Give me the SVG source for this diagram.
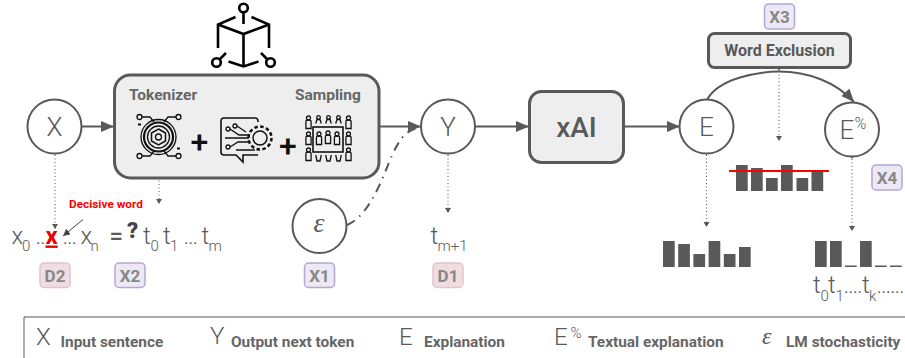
<svg xmlns="http://www.w3.org/2000/svg" width="905" height="358" viewBox="0 0 905 358">
<style>
text{font-family:Roboto,"Liberation Sans",sans-serif;fill:#595959}
.big{font-size:24px;font-weight:300}
.node{font-size:26px;font-weight:300;text-anchor:middle}
.sub{font-size:15px;font-weight:300}
.dots{font-size:17px;font-weight:400}
.leg{font-size:15.400px;font-weight:700;fill:#666}
.head{font-size:15.500px;font-weight:700;fill:#666}
.eps{font-family:"Liberation Serif",serif;font-style:italic}
.c{fill:#fff;stroke:#595959;stroke-width:2}
.b{fill:#eee;stroke:#595959;stroke-width:3}
.ln{fill:none;stroke:#595959;stroke-width:2}
.dot{fill:none;stroke:#555;stroke-width:1;stroke-dasharray:1 2.500}
.bar{fill:#595959}
.ic{fill:none;stroke:#111;stroke-width:1.300}
.ik{fill:none;stroke:#000;stroke-width:2.600}
.plus{fill:#111;font-size:32px;font-weight:500;text-anchor:middle}
.tag{font-size:17px;font-weight:700;fill:#888;text-anchor:middle}
.pu{fill:#ece9f4;stroke:#b4a7d6;stroke-width:1.500}
.pi{fill:#f0dde2;stroke:#e6c3cc;stroke-width:1.500}
</style>
<defs>
<marker id="a" markerUnits="userSpaceOnUse" markerWidth="14" markerHeight="12" refX="13" refY="5.500" orient="auto"><path d="M0 0L13 5.500L0 11z" fill="#595959"/></marker>
<marker id="s" markerUnits="userSpaceOnUse" markerWidth="6" markerHeight="7" refX="5" refY="3" orient="auto"><path d="M0 0L5 3L0 6z" fill="#595959"/></marker>
<marker id="k" markerUnits="userSpaceOnUse" markerWidth="8" markerHeight="8" refX="7" refY="3.500" orient="auto"><path d="M0 0L7 3.500L0 7z" fill="#444"/></marker>
<g id="person"><circle cx="0" cy="-4" r="2"/><path d="M-2.600 6.500V-0.500Q-2.600 -2 0 -2Q2.600 -2 2.600 -0.500V6.500z"/></g>
<g id="mini"><circle cx="0" cy="-2.500" r="1.800"/><path d="M-2.800 3.500L-1.500 -0.500H1.500L2.800 3.500"/></g>
<path id="cup" d="M-2.800 -3L-1.500 3H1.500L2.800 -3"/>
</defs>

<g id="connectors">
<path class="ln" d="M82 126.500H114" marker-end="url(#a)"/>
<path class="ln" d="M380 126.500H421" marker-end="url(#a)"/>
<path class="ln" d="M475 126.500H529" marker-end="url(#a)"/>
<path class="ln" d="M624 126.500H680" marker-end="url(#a)"/>
<path class="ln" d="M707 100C718 78 760 71.500 779 71.500C808 71.500 836 82 854 102" marker-end="url(#a)"/>
<path fill="none" stroke="#595959" stroke-width="2" stroke-dasharray="9 6 1.500 6" d="M347 225C366 217 378 190 388 165C393 152 400 138 407 133C410 131 413 129 417 128"/>
<path class="dot" d="M55 155V229" marker-start="url(#s)" marker-end="url(#s)"/>
<path class="dot" d="M159 163V204" marker-start="url(#s)" marker-end="url(#s)"/>
<path class="dot" d="M448 155V213" marker-start="url(#s)" marker-end="url(#s)"/>
<path class="dot" d="M706.500 155V227" marker-start="url(#s)" marker-end="url(#s)"/>
<path class="dot" d="M779 71V141" marker-start="url(#s)" marker-end="url(#s)"/>
<path class="dot" d="M852 159V231" marker-start="url(#s)" marker-end="url(#s)"/>
<path fill="none" stroke="#444" stroke-width="1" d="M83 219.500L63 236" marker-end="url(#k)"/>
</g>

<g id="cube-icon" class="ik">
<circle cx="243.500" cy="8" r="4.300"/>
<circle cx="216.500" cy="62.500" r="4.300"/>
<circle cx="270.500" cy="62.500" r="4.300"/>
<path d="M243.500 12.500V24"/>
<path d="M235.500 17L218 24.500V48M251.500 17L269 24.500V48M218 24.500L243.500 34L269 24.500M243.500 34V66.500M228.500 61.500L243.500 66.500L258.500 61.500M220 59L226 53M267 59L261 53"/>
</g>

<g id="node-x"><circle class="c" cx="54.500" cy="126.500" r="27"/><text class="node" x="54.500" y="136">X</text></g>

<g id="node-llm">
<rect class="b" x="114.500" y="75" width="264.500" height="103" rx="16"/>
<text class="head" x="129" y="99.500">Tokenizer</text>
<text class="head" x="295" y="99.500">Sampling</text>
<g class="ic">
<circle cx="158.500" cy="137" r="17.500"/><circle cx="158.500" cy="137" r="14.500" stroke-width="2.200"/><circle cx="158.500" cy="137" r="11"/>
<path d="M158.500 129L165.500 133V141L158.500 145L151.500 141V133z" stroke-width="1.500"/><circle cx="158.500" cy="137" r="3"/>
<circle cx="139.500" cy="117" r="2.500"/><circle cx="178.500" cy="117" r="2.500"/><circle cx="139.500" cy="156" r="2.500"/><circle cx="178.500" cy="156" r="2.500"/>
<path d="M142 117H150L154 122M176 117H168L164 122M142 156H150L154 151M176 156H168L164 151"/>
<path d="M138 124.500h3M177 148.500h3" stroke-width="2"/>
</g>
<text class="plus" x="199.500" y="152.500" style="fill:#111">+</text>
<g class="ic">
<path d="M258 122V121Q258 118 255 118H224Q221 118 221 121V152Q221 155 224 155H236L243 162V155H258" stroke-width="1.600"/>
<circle cx="260" cy="138" r="7" stroke-width="1.500"/>
<circle cx="260" cy="138" r="11.500" stroke-width="2.500" stroke-dasharray="3.500 2.500"/>
<circle cx="228" cy="129" r="2"/><circle cx="235" cy="126" r="2"/><circle cx="228" cy="147" r="2"/>
<path d="M230 129L239 135H250M237 126L246 132M225 138H249M230 147L238 142H249M236 150H255"/>
</g>
<text class="plus" x="288" y="156.500" style="fill:#111">+</text>
<g class="ic">
<rect x="313" y="127" width="30" height="25" stroke-width="1.600"/>
<use href="#person" x="308.500" y="122"/><use href="#person" x="348.500" y="122"/>
<use href="#person" x="308.500" y="138"/><use href="#person" x="348.500" y="138"/>
<use href="#person" x="308.500" y="154"/><use href="#person" x="348.500" y="154"/>
<use href="#mini" x="318.500" y="120"/><use href="#mini" x="328.500" y="120"/><use href="#mini" x="338.500" y="120"/>
<use href="#person" x="319" y="138"/><use href="#person" x="328" y="137"/><use href="#person" x="337" y="138"/>
<use href="#cup" x="318.500" y="158"/><use href="#cup" x="328.500" y="158"/><use href="#cup" x="338.500" y="158"/>
</g>
</g>

<g id="node-y"><circle class="c" cx="448" cy="126.500" r="27"/><text class="node" x="448" y="136">Y</text></g>
<g id="node-xai"><rect class="b" x="529.500" y="91.500" width="94" height="71" rx="12"/><text x="576.500" y="137" font-size="28" font-weight="500" text-anchor="middle">xAI</text></g>
<g id="node-e"><circle class="c" cx="706.500" cy="126.500" r="27"/><text class="node" x="706.500" y="136">E</text></g>
<g id="node-e-pct"><circle class="c" cx="852" cy="129.500" r="27"/><text class="node" x="847" y="139">E</text><text x="854.500" y="129" font-size="16" font-weight="300">%</text></g>
<g id="node-word-exclusion"><rect class="b" x="708.500" y="33.500" width="142" height="34" rx="6"/><text x="779.500" y="56" font-size="16" font-weight="700" text-anchor="middle">Word Exclusion</text></g>
<g id="node-eps"><circle class="c" cx="319.500" cy="226" r="27"/><text class="eps" x="319" y="232" font-size="28" text-anchor="middle">ε</text></g>

<g id="input-tokens">
<text class="big" x="11.500" y="244">x</text><text class="sub" x="22" y="251">0</text>
<text class="dots" x="36" y="244">..</text>
<text x="45.500" y="243.500" font-size="24" font-weight="700" text-decoration="underline" style="fill:#e00">x</text>
<text class="dots" x="63" y="244">...</text>
<text class="big" x="80.500" y="244">x</text><text class="sub" x="90.500" y="251">n</text>
<text x="109.500" y="244" font-size="24" font-weight="500">=</text>
<text x="127" y="238" font-size="22" font-weight="900" style="fill:#444">?</text>
<text class="big" x="143" y="244">t</text><text class="sub" x="150.500" y="251">0</text>
<text class="big" x="163" y="244">t</text><text class="sub" x="170" y="251">1</text>
<text class="dots" x="184" y="244">...</text>
<text class="big" x="201.500" y="244">t</text><text class="sub" x="208.500" y="251">m</text>
<text x="69" y="208" font-size="11.800" font-weight="700" style="fill:#f00">Decisive word</text>
</g>

<g id="output-token"><text class="big" x="430.500" y="244">t</text><text class="sub" x="437.500" y="251">m+1</text></g>

<g id="chart-e">
<rect class="bar" x="663" y="241" width="11.700" height="26"/><rect class="bar" x="678.200" y="244" width="11.700" height="23"/><rect class="bar" x="693.400" y="254" width="11.700" height="13"/><rect class="bar" x="708.600" y="241" width="11.700" height="26"/><rect class="bar" x="723.800" y="254" width="11.700" height="13"/><rect class="bar" x="739" y="247" width="11.700" height="20"/>
</g>
<g id="chart-exclusion">
<rect class="bar" x="736" y="165" width="11.700" height="26"/><rect class="bar" x="751" y="168" width="11.700" height="23"/><rect class="bar" x="766" y="178" width="11.700" height="13"/><rect class="bar" x="781" y="165" width="11.700" height="26"/><rect class="bar" x="796.500" y="178" width="11.700" height="13"/><rect class="bar" x="811.500" y="171" width="11.700" height="20"/>
<rect x="729" y="170" width="100" height="2" fill="#f00"/>
</g>
<g id="chart-textual">
<rect class="bar" x="815" y="241" width="11.700" height="26"/><rect class="bar" x="830" y="241" width="11.700" height="26"/><rect class="bar" x="845" y="265.500" width="11.700" height="1.500"/><rect class="bar" x="860" y="241" width="11.700" height="26"/><rect class="bar" x="875" y="265.500" width="11.700" height="1.500"/><rect class="bar" x="890" y="265.500" width="11.700" height="1.500"/>
<text class="big" x="813" y="293">t</text><text class="sub" x="820.500" y="301">0</text>
<text class="big" x="828" y="293">t</text><text class="sub" x="835.500" y="301">1</text>
<text class="dots" x="844" y="293">....</text>
<text class="big" x="862" y="293">t</text><text class="sub" x="869" y="301">k</text>
<text class="dots" x="877" y="293">......</text>
</g>

<g id="badge-d2"><rect class="pi" x="40" y="263" width="30" height="24.500" rx="4"/><text class="tag" x="55" y="281.500">D2</text></g>
<g id="badge-x2"><rect class="pu" x="115" y="263" width="30" height="24.500" rx="4"/><text class="tag" x="130" y="281.500">X2</text></g>
<g id="badge-x1"><rect class="pu" x="304.500" y="263" width="30" height="24.500" rx="4"/><text class="tag" x="319.500" y="281.500">X1</text></g>
<g id="badge-d1"><rect class="pi" x="433" y="263" width="30" height="24.500" rx="4"/><text class="tag" x="448" y="281.500">D1</text></g>
<g id="badge-x3"><rect class="pu" x="764.500" y="4" width="30" height="25" rx="4"/><text class="tag" x="779.500" y="22.500">X3</text></g>
<g id="badge-x4"><rect class="pu" x="872" y="165" width="30" height="25" rx="4"/><text class="tag" x="887" y="183.500">X4</text></g>

<g id="legend">
<path fill="none" stroke="#595959" stroke-width="1" d="M24 358V317H905"/>
<text class="big" x="36" y="345">X</text><text class="leg" x="60.500" y="347">Input sentence</text>
<text class="big" x="210" y="344">Y</text><text class="leg" x="231" y="347">Output next token</text>
<text class="big" x="399" y="345">E</text><text class="leg" x="424" y="347">Explanation</text>
<text class="big" x="554" y="345">E</text><text x="570.500" y="337.500" font-size="15" font-weight="300">%</text><text class="leg" x="588" y="347">Textual explanation</text>
<text class="eps" x="762" y="344" font-size="24">ε</text><text class="leg" x="786" y="347">LM stochasticity</text>
</g>
</svg>
